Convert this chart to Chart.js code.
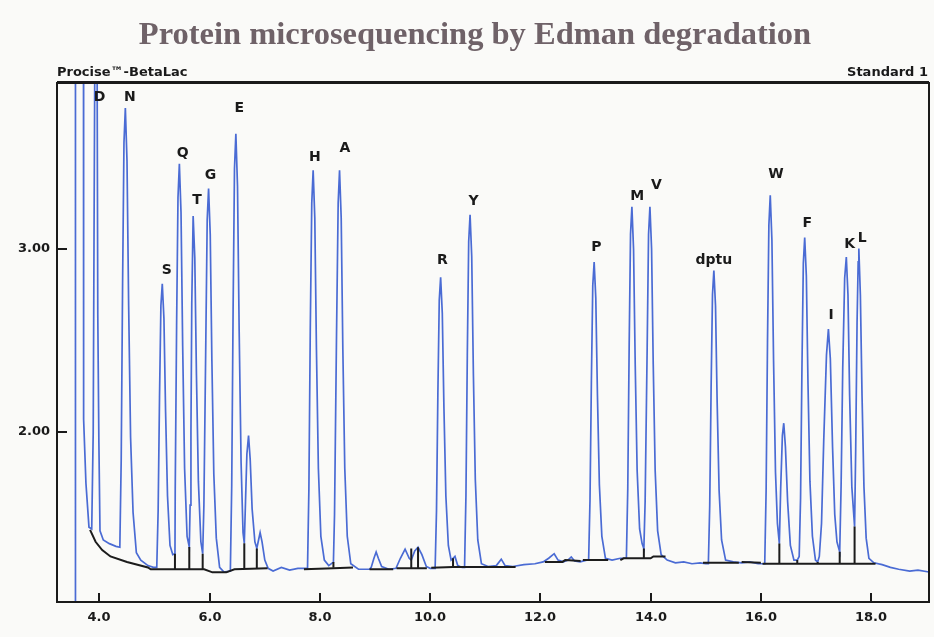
<!DOCTYPE html>
<html>
<head>
<meta charset="utf-8">
<title>Edman degradation</title>
<script src="https://cdn.jsdelivr.net/npm/chart.js@4.4.1/dist/chart.umd.min.js"></script>
<style>
  html, body { margin: 0; padding: 0; background: #fafaf8; }
  #wrap { width: 934px; height: 637px; }
</style>
</head>
<body>
<div id="wrap"><canvas id="chart" width="934" height="637"></canvas></div>
<script>
/* ===================== DATA ===================== */
const X_MIN = 3.23, X_MAX = 19.05;
const Y_MIN = 1.071, Y_MAX = 3.907;
const xTicks = [4, 6, 8, 10, 12, 14, 16, 18];
const yTicks = [2, 3];

const titleText = "Protein microsequencing by Edman degradation";
const headerLeft = "Procise\u2122-BetaLac";
const headerRight = "Standard 1";

// peak labels (name, x, y of label centre)
const peakNames = ["D", "N", "S", "Q", "T", "G", "E", "H", "A", "R", "Y", "P", "M", "V", "dptu", "W", "F", "I", "K", "L"];
const peakX = [4.00, 4.55, 5.22, 5.51, 5.77, 6.015, 6.535, 7.907, 8.454, 10.22, 10.786, 13.016, 13.755, 14.103, 15.147, 16.274, 16.84, 17.274, 17.611, 17.838];
const peakY = [3.83, 3.83, 2.885, 3.52, 3.267, 3.40, 3.77, 3.502, 3.548, 2.94, 3.261, 3.011, 3.289, 3.348, 2.94, 3.41, 3.141, 2.637, 3.026, 3.058];

// detector trace [time, absorbance]
const trace = [
  [3.23, 1.071], [3.56, 1.071], [3.565, 4.6], [3.71, 4.6], [3.713, 2.07], [3.755, 1.72], [3.81, 1.48], [3.86, 1.47],
  [3.887, 2.0], [3.905, 3.3], [3.92, 4.3], [3.955, 4.3], [3.97, 2.64], [3.99, 1.94], [4.01, 1.46], [4.07, 1.41], [4.18, 1.39], [4.30, 1.375],
  [4.37, 1.37], [4.395, 1.85], [4.42, 2.81], [4.445, 3.58], [4.47, 3.77], [4.50, 3.48], [4.53, 2.69], [4.565, 1.97], [4.61, 1.56], [4.67, 1.34], [4.75, 1.30], [4.88, 1.27], [4.98, 1.26],
  [5.04, 1.26], [5.065, 1.57], [5.09, 2.19], [5.115, 2.69], [5.14, 2.81], [5.17, 2.62], [5.20, 2.11], [5.235, 1.65], [5.28, 1.38], [5.33, 1.33],
  [5.37, 1.335], [5.375, 1.69], [5.40, 2.58], [5.425, 3.28], [5.45, 3.465], [5.48, 3.20], [5.51, 2.47], [5.545, 1.80], [5.59, 1.43], [5.63, 1.372],
  [5.645, 1.60], [5.66, 2.0], [5.675, 2.70], [5.70, 3.18], [5.73, 2.95], [5.76, 2.31], [5.795, 1.73], [5.84, 1.40], [5.873, 1.335],
  [5.895, 1.60], [5.93, 2.50], [5.955, 3.16], [5.98, 3.33], [6.01, 3.08], [6.04, 2.39], [6.075, 1.77], [6.12, 1.42], [6.18, 1.26], [6.26, 1.235], [6.36, 1.24],
  [6.375, 1.24], [6.40, 1.71], [6.425, 2.67], [6.45, 3.44], [6.475, 3.63], [6.505, 3.34], [6.535, 2.55], [6.57, 1.83], [6.605, 1.45], [6.628, 1.392],
  [6.65, 1.62], [6.675, 1.88], [6.705, 1.98], [6.735, 1.85], [6.77, 1.58], [6.82, 1.40], [6.855, 1.364],
  [6.88, 1.40], [6.915, 1.45], [6.95, 1.40], [7.00, 1.30], [7.06, 1.255], [7.15, 1.24], [7.30, 1.26], [7.45, 1.245], [7.60, 1.255], [7.76, 1.255],
  [7.775, 1.255], [7.80, 1.69], [7.825, 2.56], [7.852, 3.25], [7.877, 3.43], [7.907, 3.17], [7.937, 2.45], [7.972, 1.80], [8.017, 1.43], [8.08, 1.30], [8.16, 1.27], [8.245, 1.289],
  [8.265, 1.55], [8.30, 2.50], [8.331, 3.25], [8.356, 3.43], [8.386, 3.17], [8.416, 2.45], [8.451, 1.80], [8.496, 1.43], [8.56, 1.28], [8.70, 1.25], [8.90, 1.25],
  [8.93, 1.26], [8.98, 1.31], [9.02, 1.344], [9.06, 1.31], [9.12, 1.265], [9.25, 1.25], [9.38, 1.255],
  [9.46, 1.31], [9.545, 1.36], [9.62, 1.31], [9.657, 1.30], [9.72, 1.35], [9.78, 1.37], [9.85, 1.33], [9.93, 1.265], [10.0, 1.255],
  [10.09, 1.255], [10.115, 1.57], [10.14, 2.21], [10.165, 2.72], [10.19, 2.845], [10.22, 2.65], [10.25, 2.13], [10.285, 1.65], [10.33, 1.38], [10.38, 1.30], [10.415, 1.31], [10.45, 1.32], [10.50, 1.27], [10.58, 1.26],
  [10.624, 1.26], [10.649, 1.65], [10.674, 2.42], [10.699, 3.04], [10.724, 3.187], [10.754, 2.96], [10.784, 2.32], [10.819, 1.74], [10.864, 1.41], [10.93, 1.28], [11.05, 1.265],
  [11.2, 1.27], [11.29, 1.305], [11.36, 1.27], [11.5, 1.265], [11.7, 1.275], [11.9, 1.28], [12.05, 1.29],
  [12.15, 1.31], [12.25, 1.335], [12.32, 1.30], [12.42, 1.29], [12.5, 1.30], [12.56, 1.317], [12.62, 1.295], [12.72, 1.29], [12.84, 1.30],
  [12.875, 1.30], [12.90, 1.63], [12.925, 2.28], [12.95, 2.80], [12.975, 2.928], [13.005, 2.73], [13.035, 2.20], [13.07, 1.71], [13.115, 1.43], [13.18, 1.31], [13.3, 1.30], [13.45, 1.31], [13.54, 1.31],
  [13.56, 1.31], [13.585, 1.69], [13.61, 2.46], [13.635, 3.08], [13.66, 3.23], [13.69, 3.00], [13.72, 2.37], [13.755, 1.79], [13.80, 1.47], [13.845, 1.39], [13.877, 1.363],
  [13.90, 1.62], [13.937, 2.46], [13.962, 3.08], [13.987, 3.23], [14.017, 3.00], [14.047, 2.37], [14.082, 1.79], [14.127, 1.46], [14.19, 1.33], [14.3, 1.30], [14.45, 1.285], [14.6, 1.29], [14.75, 1.28], [14.9, 1.285], [15.0, 1.28],
  [15.047, 1.28], [15.072, 1.60], [15.097, 2.24], [15.122, 2.75], [15.147, 2.882], [15.177, 2.69], [15.207, 2.16], [15.242, 1.68], [15.287, 1.41], [15.36, 1.30], [15.5, 1.29], [15.65, 1.285], [15.8, 1.29], [15.95, 1.28], [16.04, 1.28],
  [16.07, 1.28], [16.095, 1.68], [16.12, 2.49], [16.145, 3.13], [16.17, 3.293], [16.20, 3.05], [16.23, 2.39], [16.265, 1.78], [16.30, 1.50], [16.335, 1.39],
  [16.36, 1.70], [16.39, 1.98], [16.415, 2.048], [16.445, 1.92], [16.485, 1.62], [16.535, 1.38], [16.60, 1.30], [16.66, 1.30],
  [16.695, 1.32], [16.72, 1.64], [16.745, 2.35], [16.77, 2.92], [16.795, 3.063], [16.825, 2.85], [16.855, 2.26], [16.89, 1.73], [16.935, 1.43], [16.99, 1.30], [17.03, 1.29],
  [17.06, 1.32], [17.10, 1.50], [17.14, 1.95], [17.19, 2.42], [17.225, 2.563], [17.26, 2.40], [17.30, 1.92], [17.34, 1.55], [17.38, 1.40], [17.43, 1.345],
  [17.455, 1.70], [17.485, 2.35], [17.52, 2.84], [17.55, 2.956], [17.58, 2.75], [17.61, 2.20], [17.65, 1.70], [17.70, 1.483],
  [17.72, 1.90], [17.745, 2.60], [17.765, 2.93], [17.777, 3.002], [17.805, 2.75], [17.835, 2.20], [17.87, 1.70], [17.91, 1.42], [17.96, 1.31], [18.05, 1.285],
  [18.2, 1.275], [18.35, 1.26], [18.5, 1.25], [18.7, 1.24], [18.85, 1.245], [19.05, 1.235]
];

// integration baseline segments (null = gap)
const baseline = [
  [3.83, 1.465], [3.93, 1.40], [4.05, 1.355], [4.20, 1.32], [4.50, 1.29], [4.88, 1.26], [4.93, 1.25], [5.90, 1.25], [6.05, 1.233], [6.30, 1.233], [6.45, 1.25], [7.05, 1.255], null,
  [7.71, 1.25], [8.245, 1.255], [8.60, 1.26], null,
  [8.90, 1.25], [9.33, 1.25], null,
  [9.39, 1.256], [9.94, 1.256], null,
  [10.02, 1.258], [10.415, 1.262], [11.55, 1.262], null,
  [12.08, 1.29], [12.40, 1.29], [12.45, 1.30], [12.73, 1.295], null,
  [12.77, 1.30], [13.23, 1.30], null,
  [13.45, 1.30], [13.51, 1.31], [14.0, 1.31], [14.05, 1.32], [14.27, 1.32], null,
  [14.95, 1.285], [15.60, 1.285], null,
  [15.65, 1.29], [16.0, 1.285], null,
  [16.03, 1.28], [18.08, 1.28]
];

// peak separation drop lines [time, baseline, trace value]
const drops = [
  [5.37, 1.25, 1.335], [5.63, 1.25, 1.372], [5.873, 1.25, 1.335], [6.628, 1.252, 1.392], [6.855, 1.255, 1.364],
  [8.245, 1.258, 1.289], [9.657, 1.256, 1.363], [9.78, 1.256, 1.37], [10.415, 1.262, 1.31], [13.877, 1.31, 1.363],
  [16.335, 1.28, 1.39], [16.66, 1.28, 1.30], [17.03, 1.28, 1.29], [17.43, 1.28, 1.345], [17.70, 1.28, 1.483]
];

/* ===================== HELPERS ===================== */
const LABEL_FONT = "bold 14px 'DejaVu Sans', sans-serif";
const AXIS_FONT = "bold 13px 'DejaVu Sans', sans-serif";

function toPoints(list) {
  return list.map(p => p ? { x: p[0], y: p[1] } : { x: NaN, y: NaN });
}

function dropPoints() {
  const pts = [];
  drops.forEach(d => {
    pts.push({ x: d[0], y: d[1] }, { x: d[0], y: d[2] }, { x: NaN, y: NaN });
  });
  return pts;
}

/* ===================== DECORATION PLUGIN ===================== */
const decor = {
  id: "decor",
  afterDatasetsDraw(chart) {
    const { ctx, chartArea: a, scales } = chart;
    ctx.save();
    // frame
    ctx.strokeStyle = "#1a1a1a";
    ctx.lineWidth = 2;
    ctx.strokeRect(a.left, a.top, a.right - a.left, a.bottom - a.top);
    ctx.lineWidth = 1;
    ctx.beginPath();
    ctx.moveTo(a.left, a.top - 1.5);
    ctx.lineTo(a.right, a.top - 1.5);
    ctx.stroke();

    // inward ticks + labels
    ctx.lineWidth = 2;
    ctx.fillStyle = "#1a1a1a";
    ctx.font = AXIS_FONT;
    ctx.textBaseline = "middle";
    ctx.textAlign = "center";
    scales.x.ticks.forEach(t => {
      const px = Math.round(scales.x.getPixelForValue(t.value));
      ctx.beginPath();
      ctx.moveTo(px, a.bottom);
      ctx.lineTo(px, a.bottom - 9);
      ctx.stroke();
      ctx.fillText(t.value.toFixed(1), px, a.bottom + 16);
    });
    ctx.textAlign = "right";
    scales.y.ticks.forEach(t => {
      const py = Math.round(scales.y.getPixelForValue(t.value));
      ctx.beginPath();
      ctx.moveTo(a.left, py);
      ctx.lineTo(a.left + 10, py);
      ctx.stroke();
      ctx.fillText(t.value.toFixed(2), a.left - 7, py);
    });

    // peak names
    ctx.font = LABEL_FONT;
    ctx.textAlign = "center";
    peakNames.forEach((n, i) => {
      ctx.fillText(n, scales.x.getPixelForValue(peakX[i]), scales.y.getPixelForValue(peakY[i]));
    });

    // header
    ctx.font = AXIS_FONT;
    ctx.textBaseline = "alphabetic";
    ctx.textAlign = "left";
    ctx.fillText(headerLeft, a.left, 76);
    ctx.textAlign = "right";
    ctx.fillText(headerRight, a.right - 1, 76);

    // title
    ctx.font = "bold 32.5px 'Liberation Serif', 'Times New Roman', serif";
    ctx.fillStyle = "#6f6268";
    ctx.textAlign = "center";
    ctx.fillText(titleText, 475, 44);
    ctx.restore();
  }
};

/* ===================== CHART ===================== */
new Chart(document.getElementById("chart"), {
  type: "scatter",
  data: {
    datasets: [
      { label: "baseline", data: toPoints(baseline), showLine: true, spanGaps: false,
        borderColor: "#1c1c1c", borderWidth: 2, pointRadius: 0, tension: 0 },
      { label: "drops", data: dropPoints(), showLine: true, spanGaps: false,
        borderColor: "#1c1c1c", borderWidth: 2, pointRadius: 0, tension: 0 },
      { label: "trace", data: toPoints(trace), showLine: true,
        borderColor: "#4a6bd4", borderWidth: 1.7, pointRadius: 0, tension: 0 }
    ]
  },
  options: {
    responsive: false,
    animation: false,
    layout: { padding: { top: 83, right: 5, left: 0, bottom: 0 } },
    plugins: { legend: { display: false }, tooltip: { enabled: false } },
    scales: {
      x: {
        type: "linear", min: X_MIN, max: X_MAX,
        afterBuildTicks: s => { s.ticks = xTicks.map(v => ({ value: v })); },
        afterFit: s => { s.height = 35; },
        grid: { display: false }, border: { display: false }, ticks: { display: false }
      },
      y: {
        type: "linear", min: Y_MIN, max: Y_MAX,
        afterBuildTicks: s => { s.ticks = yTicks.map(v => ({ value: v })); },
        afterFit: s => { s.width = 57; },
        grid: { display: false }, border: { display: false }, ticks: { display: false }
      }
    }
  },
  plugins: [decor]
});
</script>
</body>
</html>
